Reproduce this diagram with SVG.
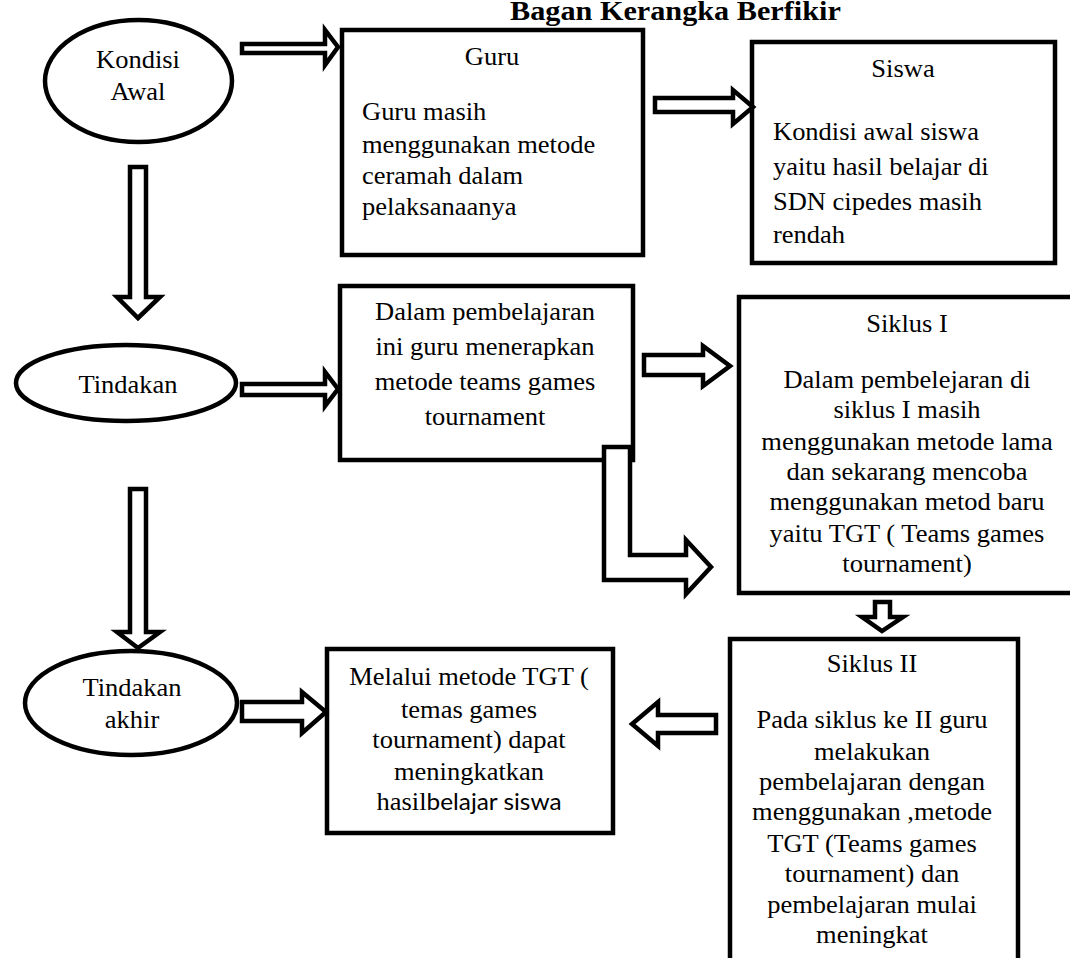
<svg xmlns="http://www.w3.org/2000/svg" width="1070" height="958" viewBox="0 0 1070 958">
<style>
.box{fill:#fff;stroke:#000;stroke-width:4.5;stroke-linejoin:miter}
.ell{fill:#fff;stroke:#000;stroke-width:4.5}
.arr{fill:#fff;stroke:#000;stroke-width:4.5;stroke-linejoin:miter}
.t{font-family:"Liberation Serif","Times New Roman",serif;font-size:25px;fill:#000}
.c{text-anchor:middle}
.title{font-family:"Liberation Serif","Times New Roman",serif;font-size:27px;font-weight:bold;fill:#000}
.sans{font-family:Lato,"Liberation Sans",sans-serif;font-size:23px}
</style>
<rect width="1070" height="958" fill="#fff"/>
<text class="title" transform="translate(510,0) scale(1.12,1)" x="0" y="20">Bagan Kerangka Berfikir</text>

<g id="kondisi-awal">
<ellipse class="ell" cx="138.5" cy="81" rx="93.5" ry="61"/>
<text class="t c" transform="translate(138,0) scale(1.06,1)"><tspan x="0" y="68">Kondisi</tspan><tspan x="0" y="100">Awal</tspan></text>
</g>

<g id="guru">
<rect class="box" x="342" y="30" width="301" height="225"/>
<text class="t c" transform="translate(492,0) scale(1.06,1)"><tspan x="0" y="65">Guru</tspan></text>
<text class="t" transform="translate(362,0) scale(1.06,1)"><tspan x="0" y="120">Guru masih</tspan><tspan x="0" y="153">menggunakan metode</tspan><tspan x="0" y="184">ceramah dalam</tspan><tspan x="0" y="215">pelaksanaanya</tspan></text>
</g>

<g id="siswa">
<rect class="box" x="752" y="42" width="303" height="221"/>
<text class="t c" transform="translate(903,0) scale(1.06,1)"><tspan x="0" y="77">Siswa</tspan></text>
<text class="t" transform="translate(773,0) scale(1.06,1)"><tspan x="0" y="140">Kondisi awal siswa</tspan><tspan x="0" y="175">yaitu hasil belajar di</tspan><tspan x="0" y="210">SDN cipedes masih</tspan><tspan x="0" y="243">rendah</tspan></text>
</g>

<g id="tindakan">
<ellipse class="ell" cx="126" cy="383" rx="110" ry="38"/>
<text class="t c" transform="translate(128,0) scale(1.06,1)"><tspan x="0" y="393">Tindakan</tspan></text>
</g>

<g id="dalam-pembelajaran">
<rect class="box" x="340" y="286" width="293" height="174"/>
<text class="t c" transform="translate(485,0) scale(1.06,1)"><tspan x="0" y="320">Dalam pembelajaran</tspan><tspan x="0" y="355">ini guru menerapkan</tspan><tspan x="0" y="390">metode teams games</tspan><tspan x="0" y="425">tournament</tspan></text>
</g>

<g id="siklus-1">
<rect class="box" x="739" y="297" width="345" height="296"/>
<text class="t c" transform="translate(907,0) scale(1.06,1)"><tspan x="0" y="332">Siklus I</tspan><tspan x="0" y="388">Dalam pembelejaran di</tspan><tspan x="0" y="418">siklus I masih</tspan><tspan x="0" y="450">menggunakan metode lama</tspan><tspan x="0" y="480">dan sekarang mencoba</tspan><tspan x="0" y="510">menggunakan metod baru</tspan><tspan x="0" y="542">yaitu TGT ( Teams games</tspan><tspan x="0" y="572">tournament)</tspan></text>
</g>

<g id="tindakan-akhir">
<ellipse class="ell" cx="131" cy="703" rx="106" ry="52"/>
<text class="t c" transform="translate(132,0) scale(1.06,1)"><tspan x="0" y="696">Tindakan</tspan><tspan x="0" y="728">akhir</tspan></text>
</g>

<g id="melalui">
<rect class="box" x="327" y="649" width="286" height="184"/>
<text class="t c" transform="translate(469,0) scale(1.06,1)"><tspan x="0" y="685">Melalui metode TGT (</tspan><tspan x="0" y="718">temas games</tspan><tspan x="0" y="748">tournament) dapat</tspan><tspan x="0" y="780">meningkatkan</tspan><tspan x="0" y="810">hasil<tspan class="sans">belajar siswa</tspan></tspan></text>
</g>

<g id="siklus-2">
<rect class="box" x="730" y="639" width="288" height="350"/>
<text class="t c" transform="translate(872,0) scale(1.06,1)"><tspan x="0" y="672">Siklus II</tspan><tspan x="0" y="728">Pada siklus ke II guru</tspan><tspan x="0" y="760">melakukan</tspan><tspan x="0" y="790">pembelajaran dengan</tspan><tspan x="0" y="820">menggunakan ,metode</tspan><tspan x="0" y="852">TGT (Teams games</tspan><tspan x="0" y="882">tournament) dan</tspan><tspan x="0" y="913">pembelajaran mulai</tspan><tspan x="0" y="943">meningkat</tspan></text>
</g>

<g id="connectors">
<polygon class="arr" points="242,44 325,44 325,30 338,47 325,65 325,53 242,53"/>
<polygon class="arr" points="655,98 733,98 733,90 753,107 733,124 733,112 655,112"/>
<polygon class="arr" points="130,167 146,167 146,297 160,297 138,318 117,297 130,297"/>
<polygon class="arr" points="242,384 325,384 325,372 338,389 325,406 325,395 242,395"/>
<polygon class="arr" points="130,489 146,489 146,632 160,632 138,648 117,632 130,632"/>
<polygon class="arr" points="242,702 302,702 302,692 326,712 302,733 302,721 242,721"/>
<polygon class="arr" points="644,355 703,355 703,346 730,366 703,386 703,375 644,375"/>
<polygon class="arr" points="604,447 630,447 630,555 686,555 686,540 711,567 686,594 686,580 604,580"/>
<polygon class="arr" points="875,602 890,602 890,617 903,617 882,631 862,617 875,617"/>
<polygon class="arr" points="716,715 658,715 658,702 632,724 658,746 658,733 716,733"/>
</g>
</svg>
